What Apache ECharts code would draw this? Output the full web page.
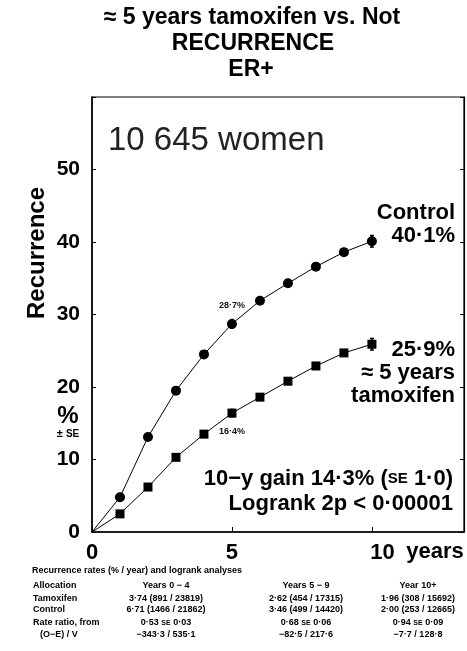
<!DOCTYPE html>
<html>
<head>
<meta charset="utf-8">
<style>
  html, body { margin: 0; padding: 0; background: #fff; }
  #chart { width: 467px; height: 651px; }
</style>
<script src="https://cdn.jsdelivr.net/npm/echarts@6/dist/echarts.min.js"></script>
</head>
<body>
<div id="chart"></div>
<script>
const FONT = "'Liberation Sans', Arial, sans-serif";

// cumulative recurrence (%) by year
const years = [0, 1, 2, 3, 4, 5, 6, 7, 8, 9, 10];
const controlRisk = [0, 4.8, 13.1, 19.5, 24.5, 28.7, 31.9, 34.3, 36.6, 38.6, 40.1];
const tamoxifenRisk = [0, 2.5, 6.2, 10.3, 13.5, 16.4, 18.6, 20.8, 22.9, 24.7, 25.9];

// standard errors shown at 5 and 10 years: [year, value, se]
const controlErrors = [[5, 28.7, 0.6], [10, 40.1, 0.8]];
const tamoxifenErrors = [[5, 16.4, 0.5], [10, 25.9, 0.8]];

// bottom table
const tableColumns = ["Years 0 \u2212 4", "Years 5 \u2212 9", "Year 10+"];
const tamoxifenRates = ["3\u00b774 (891 / 23819)", "2\u00b762 (454 / 17315)", "1\u00b796 (308 / 15692)"];
const controlRates = ["6\u00b771 (1466 / 21862)", "3\u00b746 (499 / 14420)", "2\u00b700 (253 / 12665)"];
const rateRatios = [["0\u00b753", "0\u00b703"], ["0\u00b768", "0\u00b706"], ["0\u00b794", "0\u00b709"]];
const oeOverV = ["\u2212343\u00b73 / 535\u00b71", "\u221282\u00b75 / 217\u00b76", "\u22127\u00b77 / 128\u00b78"];

const yTicks = [0, 10, 20, 30, 40, 50];
const xTicks = [0, 5, 10];

function seriesData(values, labelIdx, labelText, labelPos) {
  return years.map((yr, i) => {
    const item = { value: [yr, values[i]] };
    if (i === 0) item.symbol = "none";
    if (i === labelIdx) {
      item.label = {
        show: true,
        formatter: labelText,
        position: labelPos,
        distance: 9,
        fontFamily: FONT,
        fontSize: 9,
        fontWeight: "bold",
        color: "#111",
      };
    }
    return item;
  });
}

function errorBars(params, api) {
  const x = api.value(0);
  const y = api.value(1);
  const e = api.value(2);
  const hi = api.coord([x, y + e]);
  const lo = api.coord([x, y - e]);
  const style = { stroke: "#000", lineWidth: 1.5 };
  return {
    type: "group",
    children: [
      { type: "line", shape: { x1: hi[0], y1: hi[1], x2: lo[0], y2: lo[1] }, style },
      { type: "line", shape: { x1: hi[0] - 2, y1: hi[1], x2: hi[0] + 2, y2: hi[1] }, style },
      { type: "line", shape: { x1: lo[0] - 2, y1: lo[1], x2: lo[0] + 2, y2: lo[1] }, style },
    ],
  };
}

function txt(text, x, y, size, opts) {
  return {
    type: "text",
    x: x,
    y: y,
    rotation: (opts && opts.rotation) || 0,
    style: Object.assign({
      text: text,
      fontFamily: FONT,
      fontSize: size,
      fontWeight: "bold",
      fill: "#000",
      textAlign: "center",
      textVerticalAlign: "middle",
    }, opts && opts.style),
  };
}

const smallCaps = { sc: { fontFamily: FONT, fontSize: 7, fontWeight: "bold", fill: "#000" } };

const colX = [166, 306, 418];
const rowY = { head: 571, alloc: 586, tam: 599, ctrl: 610, ratio: 623, oe: 635 };

const tableGraphics = [
  txt("Recurrence rates (% / year) and logrank analyses", 32, rowY.head, 9, { style: { textAlign: "left" } }),
  txt("Allocation", 33, rowY.alloc, 9, { style: { textAlign: "left" } }),
  txt("Tamoxifen", 33, rowY.tam, 9, { style: { textAlign: "left" } }),
  txt("Control", 33, rowY.ctrl, 9, { style: { textAlign: "left" } }),
  txt("Rate ratio, from", 33, rowY.ratio, 9, { style: { textAlign: "left" } }),
  txt("(O\u2212E) / V", 40, rowY.oe, 9, { style: { textAlign: "left" } }),
];
tableColumns.forEach((c, i) => {
  tableGraphics.push(txt(c, colX[i], rowY.alloc, 9));
  tableGraphics.push(txt(tamoxifenRates[i], colX[i], rowY.tam, 9));
  tableGraphics.push(txt(controlRates[i], colX[i], rowY.ctrl, 9));
  tableGraphics.push(txt(rateRatios[i][0] + " {sc|SE} " + rateRatios[i][1], colX[i], rowY.ratio, 9, { style: { rich: smallCaps } }));
  tableGraphics.push(txt(oeOverV[i], colX[i], rowY.oe, 9));
});

const chart = echarts.init(document.getElementById("chart"), null, { renderer: "canvas" });

chart.setOption({
  backgroundColor: "#fff",
  animation: false,
  grid: {
    left: 92, right: 3, top: 97, bottom: 119,
    show: true, borderColor: "#000", borderWidth: 1.2, backgroundColor: "#fff",
  },
  xAxis: {
    type: "value",
    min: 0,
    max: 13.29,
    interval: 5,
    splitLine: { show: false },
    axisLine: { show: true, lineStyle: { color: "#000", width: 1.5 } },
    axisTick: { show: true, inside: true, length: 5, lineStyle: { color: "#000", width: 1 } },
    axisLabel: {
      margin: 10,
      fontFamily: FONT,
      fontSize: 22,
      fontWeight: "bold",
      color: "#000",
      showMaxLabel: false,
      formatter: (v) => {
        if (!xTicks.includes(v)) return "";
        return v === 10 ? "{ten|10}" : String(v);
      },
      rich: { ten: { fontFamily: FONT, fontSize: 22, fontWeight: "bold", color: "#000", padding: [0, 0, 0, 21] } },
    },
  },
  yAxis: [
    {
      type: "value",
      min: 0,
      max: 60,
      interval: 10,
      splitLine: { show: false },
      axisLine: { show: true, lineStyle: { color: "#000", width: 1.5 } },
      axisTick: { show: true, inside: true, length: 4, lineStyle: { color: "#000", width: 1 } },
      axisLabel: {
        margin: 12,
        fontFamily: FONT,
        fontSize: 21,
        fontWeight: "bold",
        color: "#000",
        formatter: (v) => (yTicks.includes(v) ? String(v) : ""),
      },
    },
    {
      type: "value",
      position: "right",
      min: 0,
      max: 60,
      interval: 10,
      splitLine: { show: false },
      axisLine: { show: true, lineStyle: { color: "#000", width: 1.2 } },
      axisTick: { show: true, inside: true, length: 4, lineStyle: { color: "#000", width: 1 } },
      axisLabel: { show: false },
    },
  ],
  series: [
    {
      name: "Control",
      type: "line",
      data: seriesData(controlRisk, 5, "28\u00b77%", "top"),
      symbol: "circle",
      symbolSize: 10,
      itemStyle: { color: "#000" },
      lineStyle: { color: "#000", width: 1 },
      z: 3,
    },
    {
      name: "Tamoxifen",
      type: "line",
      data: seriesData(tamoxifenRisk, 5, "16\u00b74%", "bottom"),
      symbol: "rect",
      symbolSize: 9,
      itemStyle: { color: "#000" },
      lineStyle: { color: "#000", width: 1 },
      z: 3,
    },
    { type: "custom", data: controlErrors, renderItem: errorBars, z: 4 },
    { type: "custom", data: tamoxifenErrors, renderItem: errorBars, z: 4 },
  ],
  graphic: [
    txt("\u2248 5 years tamoxifen vs. Not", 252, 18, 23),
    txt("RECURRENCE", 253, 44, 23),
    txt("ER+", 251, 70, 23),
    txt("10 645 women", 108, 141, 33, { style: { textAlign: "left", fontWeight: "normal", fill: "#222" } }),
    txt("Recurrence", 37, 253, 24, { rotation: Math.PI / 2 }),
    txt("%", 68, 416, 24),
    txt("\u00b1 {sc|SE}", 68, 434, 11, { style: { rich: { sc: { fontFamily: FONT, fontSize: 10, fontWeight: "bold", fill: "#000" } } } }),
    txt("Control", 455, 213, 22, { style: { textAlign: "right" } }),
    txt("40\u00b71%", 455, 236, 22, { style: { textAlign: "right" } }),
    txt("25\u00b79%", 455, 350, 22, { style: { textAlign: "right" } }),
    txt("\u2248 5 years", 455, 373, 22, { style: { textAlign: "right" } }),
    txt("tamoxifen", 455, 396, 22, { style: { textAlign: "right" } }),
    txt("10\u2212y gain 14\u00b73% ({sc|SE} 1\u00b70)", 453, 479, 22, {
      style: { textAlign: "right", rich: { sc: { fontFamily: FONT, fontSize: 15, fontWeight: "bold", fill: "#000" } } },
    }),
    txt("Logrank 2p < 0\u00b700001", 453, 504, 22, { style: { textAlign: "right" } }),
    txt("years", 435, 552, 22),
  ].concat(tableGraphics),
});
</script>
</body>
</html>
